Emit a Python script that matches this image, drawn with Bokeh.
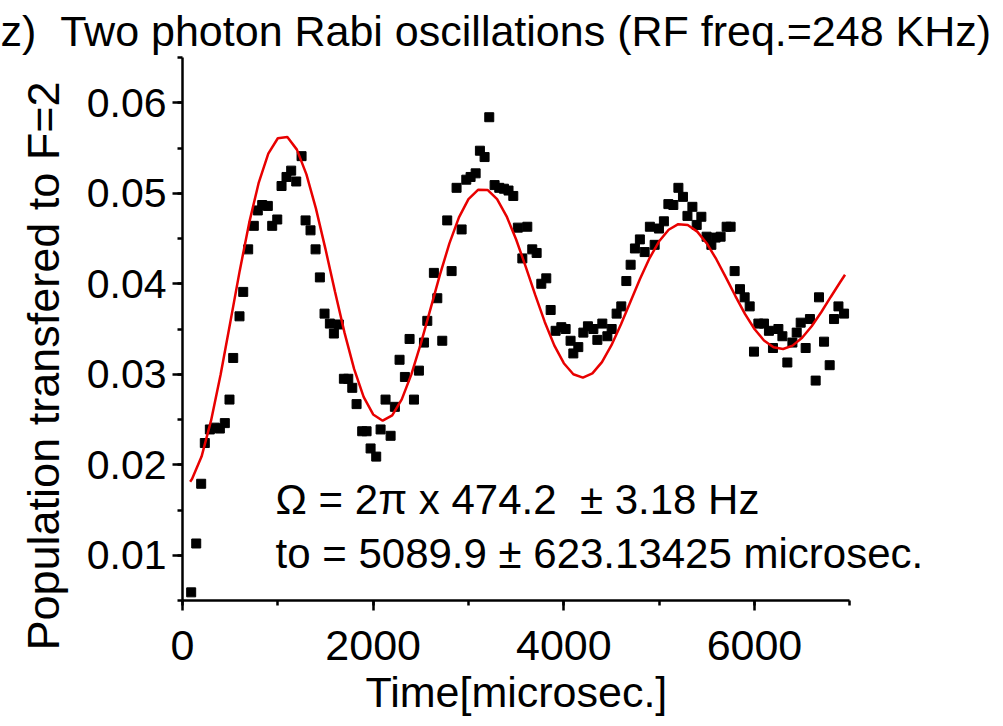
from bokeh.plotting import figure
from bokeh.models import Range1d, SingleIntervalTicker, PrintfTickFormatter, Label, Title
from bokeh.embed import file_html
from bokeh.resources import INLINE

# ---- data ----
time_us = [91, 144, 196, 234, 287, 339, 392, 444, 493, 532, 598, 637, 689, 748, 790, 836,
           895, 941, 994, 1039, 1091, 1140, 1193, 1249, 1291, 1343, 1396, 1441, 1490, 1546,
           1588, 1640, 1693, 1739, 1781, 1826, 1885, 1931, 1973, 2032, 2078, 2130, 2183,
           2228, 2277, 2333, 2382, 2428, 2480, 2533, 2568, 2637, 2673, 2725, 2777, 2823,
           2875, 2928, 2977, 3022, 3075, 3120, 3169, 3218, 3274, 3323, 3372, 3420, 3470,
           3518, 3565, 3617, 3669, 3715, 3764, 3816, 3862, 3914, 3974, 4019, 4071, 4100,
           4152, 4205, 4253, 4310, 4352, 4404, 4457, 4502, 4554, 4603, 4656, 4701, 4746,
           4798, 4848, 4903, 4953, 4998, 5050, 5097, 5149, 5202, 5250, 5297, 5349, 5394,
           5443, 5498, 5548, 5593, 5645, 5708, 5750, 5792, 5848, 5897, 5950, 5995, 6041,
           6100, 6152, 6194, 6251, 6293, 6345, 6398, 6443, 6485, 6537, 6582, 6642, 6677,
           6730, 6789, 6835, 6881, 6940]
population = [0.0059, 0.0113, 0.0179, 0.0224, 0.0239, 0.0241, 0.0240, 0.0246, 0.0272, 0.0318,
              0.0364, 0.0391, 0.0438, 0.0464, 0.0481, 0.0487, 0.0486, 0.0464, 0.0471, 0.0508,
              0.0518, 0.0525, 0.0513, 0.0541, 0.0470, 0.0459, 0.0438, 0.0407, 0.0367, 0.0356,
              0.0345, 0.0355, 0.0295, 0.0295, 0.0285, 0.0267, 0.0237, 0.0237, 0.0218, 0.0209,
              0.0239, 0.0272, 0.0232, 0.0264, 0.0316, 0.0297, 0.0339, 0.0272, 0.0304, 0.0335,
              0.0359, 0.0412, 0.0384, 0.0337, 0.0470, 0.0414, 0.0506, 0.0460, 0.0515, 0.0518,
              0.0522, 0.0547, 0.0540, 0.0584, 0.0509, 0.0506, 0.0505, 0.0503, 0.0497, 0.0462,
              0.0428, 0.0463, 0.0438, 0.0434, 0.0400, 0.0406, 0.0371, 0.0348, 0.0352, 0.0350,
              0.0337, 0.0323, 0.0330, 0.0346, 0.0353, 0.0350, 0.0338, 0.0356, 0.0342, 0.0350,
              0.0367, 0.0375, 0.0403, 0.0421, 0.0439, 0.0449, 0.0435, 0.0463, 0.0443, 0.0461,
              0.0469, 0.0488, 0.0487, 0.0506, 0.0496, 0.0475, 0.0485, 0.0465, 0.0474, 0.0452,
              0.0443, 0.0451, 0.0452, 0.0463, 0.0463, 0.0414, 0.0394, 0.0385, 0.0375, 0.0325,
              0.0356, 0.0356, 0.0348, 0.0329, 0.0350, 0.0342, 0.0313, 0.0335, 0.0346, 0.0357,
              0.0329, 0.0361, 0.0293, 0.0385, 0.0336, 0.0310, 0.0361, 0.0375, 0.0367]

# fitted curve
fit_time = [80, 100, 200, 300, 400, 500, 600, 700, 800, 900, 1000, 1100, 1200, 1300, 1400,
            1500, 1600, 1700, 1800, 1900, 2000, 2100, 2200, 2300, 2400, 2500, 2600, 2700,
            2800, 2900, 3000, 3100, 3200, 3300, 3400, 3500, 3600, 3700, 3800, 3900, 4000,
            4100, 4200, 4300, 4400, 4500, 4600, 4700, 4800, 4900, 5000, 5100, 5200, 5300,
            5400, 5500, 5600, 5700, 5800, 5900, 6000, 6100, 6200, 6300, 6400, 6500, 6600,
            6700, 6800, 6900, 6950]
fit_pop = [0.01813, 0.01842, 0.02090, 0.02490, 0.02998, 0.03566, 0.04142, 0.04675, 0.05118,
           0.05437, 0.05608, 0.05621, 0.05482, 0.05208, 0.04830, 0.04383, 0.03912, 0.03457,
           0.03059, 0.02751, 0.02556, 0.02487, 0.02546, 0.02722, 0.02996, 0.03338, 0.03717,
           0.04098, 0.04446, 0.04733, 0.04935, 0.05038, 0.05037, 0.04935, 0.04745, 0.04489,
           0.04190, 0.03877, 0.03578, 0.03319, 0.03122, 0.03000, 0.02963, 0.03010, 0.03134,
           0.03321, 0.03552, 0.03804, 0.04056, 0.04284, 0.04469, 0.04597, 0.04658, 0.04650,
           0.04576, 0.04445, 0.04271, 0.04071, 0.03864, 0.03668, 0.03500, 0.03373, 0.03298,
           0.03279, 0.03316, 0.03403, 0.03530, 0.03685, 0.03854, 0.04019, 0.04100]

title_text = "z)\u00a0\u00a0Two photon Rabi oscillations (RF freq.=248 KHz)"
x_label = "Time[microsec.]"
y_label = "Population transfered to F=2"
note_1 = "\u03a9 = 2\u03c0 x 474.2 \u00a0\u00b1 3.18 Hz"
note_2 = "to = 5089.9 \u00b1 623.13425 microsec."

FONT = "Liberation Sans"

# frame runs wider than the axis so the note text is not clipped; the axis stops at 7000
p = figure(width=1003, height=726, output_backend="svg", toolbar_location=None,
           x_range=Range1d(0, 8560), y_range=Range1d(0.005, 0.065),
           min_border_left=182, min_border_right=5, min_border_top=57,
           min_border_bottom=126, background_fill_color="white",
           border_fill_color="white")
p.outline_line_color = None
p.grid.visible = False

p.title.text = title_text
p.title.text_font = FONT
p.title.text_font_size = "43px"
p.title.text_font_style = "normal"
p.title.text_color = "black"
p.title.align = "left"
p.title.offset = -182
p.title.standoff = 5

for ax in (p.xaxis[0], p.yaxis[0]):
    ax.axis_line_width = 2.5
    ax.axis_line_color = "black"
    ax.major_tick_line_width = 2.5
    ax.minor_tick_line_width = 2.5
    ax.major_tick_out = 10
    ax.major_tick_in = 0
    ax.minor_tick_out = 5
    ax.minor_tick_in = 0
    ax.major_label_text_font = FONT
    ax.major_label_text_color = "black"

p.xaxis.bounds = (0, 7000)
p.xaxis.ticker = SingleIntervalTicker(interval=2000, num_minor_ticks=2)
p.yaxis.ticker = SingleIntervalTicker(interval=0.01, num_minor_ticks=2)
p.yaxis.formatter = PrintfTickFormatter(format="%.2f")
p.xaxis.major_label_text_font_size = "43px"
p.yaxis.major_label_text_font_size = "41px"
p.xaxis.major_label_standoff = 20
p.yaxis.major_label_standoff = 6

p.add_layout(Title(text=y_label, align="left", offset=-50, standoff=29,
                   text_font=FONT, text_font_size="45px", text_font_style="normal",
                   text_color="black"), "left")
p.add_layout(Title(text=x_label, align="left", offset=183, standoff=6,
                   text_font=FONT, text_font_size="43px", text_font_style="normal",
                   text_color="black"), "below")

p.scatter(time_us, population, marker="square", size=9, color="black")
p.line(fit_time, fit_pop, line_color="#e80000", line_width=2.5)

p.add_layout(Label(x=976, y=0.0162, text=note_1, text_font=FONT, text_font_size="42px",
                   text_color="black", text_baseline="alphabetic"))
p.add_layout(Label(x=976, y=0.0102, text=note_2, text_font=FONT, text_font_size="42px",
                   text_color="black", text_baseline="alphabetic"))

open("out.html", "w").write(file_html(p, INLINE))
